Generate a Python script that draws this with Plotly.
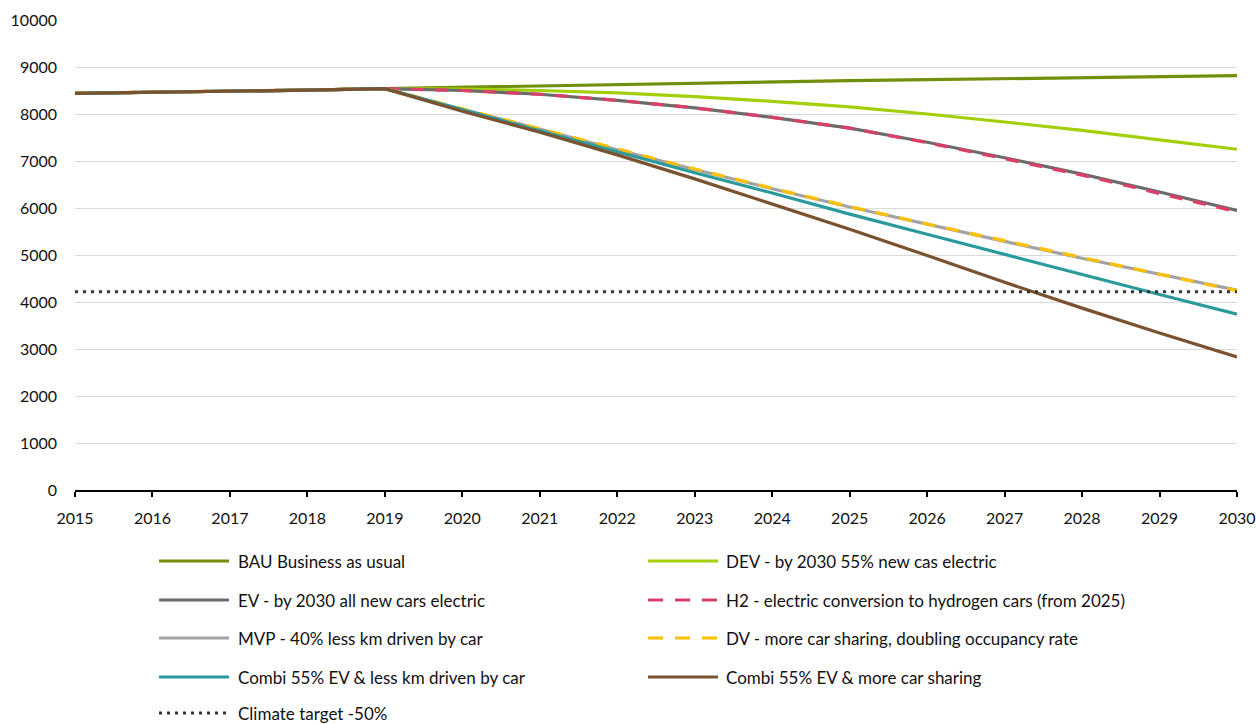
import plotly.graph_objects as go

years = list(range(2015, 2031))
history = [8440, 8460, 8480, 8510, 8540]
bau = [8570, 8590, 8620, 8650, 8680, 8710, 8730, 8750, 8775, 8800, 8815]
dev = [8530, 8500, 8450, 8370, 8270, 8150, 8000, 7830, 7650, 7450, 7250]
ev = [8500, 8420, 8290, 8130, 7930, 7700, 7400, 7070, 6720, 6340, 5950]
h2 = [8500, 8420, 8290, 8130, 7930, 7700, 7390, 7050, 6700, 6310, 5920]
mvp = [8100, 7680, 7240, 6820, 6410, 6020, 5650, 5290, 4930, 4590, 4250]
dv = [8110, 7690, 7250, 6830, 6420, 6030, 5660, 5300, 4940, 4590, 4240]
combi_km = [8090, 7640, 7190, 6750, 6320, 5870, 5440, 5010, 4580, 4160, 3740]
combi_share = [8060, 7610, 7130, 6620, 6090, 5550, 4990, 4420, 3870, 3340, 2830]
target_years = [2015, 2030]
target = [4220, 4220]

names = [
    "BAU Business as usual",
    "DEV - by 2030 55% new cas electric",
    "EV - by 2030 all new cars electric",
    "H2 - electric conversion to hydrogen cars (from 2025)",
    "MVP - 40% less km driven by car",
    "DV - more car sharing, doubling occupancy rate",
    "Combi 55% EV & less km driven by car",
    "Combi 55% EV & more car sharing",
    "Climate target -50%",
]
colors = ["#718f0b", "#a2cf08", "#6b6b6b", "#dc3f66", "#a3a3a3", "#ffc000",
          "#2a9a9d", "#7a5230", "#333333"]
dashes = ["solid", "solid", "solid", "13px,11px", "solid", "13px,11px",
          "solid", "solid", "3px,5px"]
series = [bau, dev, ev, h2, mvp, dv, combi_km, combi_share]

FONT = "Lato"
TXT = "#111111"
fig = go.Figure()
for i, s in enumerate(series):
    fig.add_trace(go.Scatter(
        x=years, y=history + s, mode="lines", name=names[i],
        line=dict(color=colors[i], width=3.2, dash=dashes[i]),
        showlegend=False))
fig.add_trace(go.Scatter(
    x=target_years, y=target, mode="lines", name=names[8],
    line=dict(color=colors[8], width=3, dash=dashes[8]), showlegend=False))

# plot area in pixels
L, R, T, B = 75, 1237, 20, 490
W, H = 1256, 724


def px_x(p):
    return (p - L) / (R - L)


def px_y(p):
    return (B - p) / (B - T)


# manual legend (two columns)
col_sym = [(159, 229), (648, 718)]
col_txt = [236, 724]
row_y = [561, 600, 638, 677, 713]
shapes = []
annotations = []
for i, nm in enumerate(names):
    r, c = divmod(i, 2)
    y = row_y[r]
    x0, x1 = col_sym[c]
    shapes.append(dict(type="line", xref="paper", yref="paper",
                       x0=px_x(x0), x1=px_x(x1), y0=px_y(y), y1=px_y(y),
                       line=dict(color=colors[i], width=3.2 if i < 8 else 3,
                                 dash=dashes[i] if i not in (3, 5) else "15px,12px")))
    annotations.append(dict(xref="paper", yref="paper", x=px_x(col_txt[c]), y=px_y(y),
                            xanchor="left", yanchor="middle", text=nm, showarrow=False,
                            font=dict(family=FONT, size=17, color=TXT)))

fig.update_layout(
    width=W, height=H,
    margin=dict(l=L, r=W - R, t=T, b=H - B, autoexpand=False),
    paper_bgcolor="white", plot_bgcolor="white",
    font=dict(family=FONT, size=16, color=TXT),
    shapes=shapes, annotations=annotations,
    showlegend=False,
)
fig.update_xaxes(
    range=[2015, 2030], tickmode="array", tickvals=years, ticktext=[str(y) for y in years],
    showgrid=False, showline=True, linecolor="black", linewidth=1.5,
    ticks="outside", ticklen=5, tickwidth=1.5, tickcolor="black",
    ticklabelstandoff=8, zeroline=False, fixedrange=True, automargin=False,
)
fig.update_yaxes(
    range=[0, 10000], dtick=1000, tickformat="d", showgrid=True, gridcolor="#d9d9d9",
    gridwidth=1.2, zeroline=False, showline=False, ticks="", ticklabelstandoff=17,
    fixedrange=True, automargin=False,
)

fig.write_html(
    "out.html",
    config={"displayModeBar": False},
    post_script="document.body.style.margin='0';document.body.style.overflow='hidden';",
)
